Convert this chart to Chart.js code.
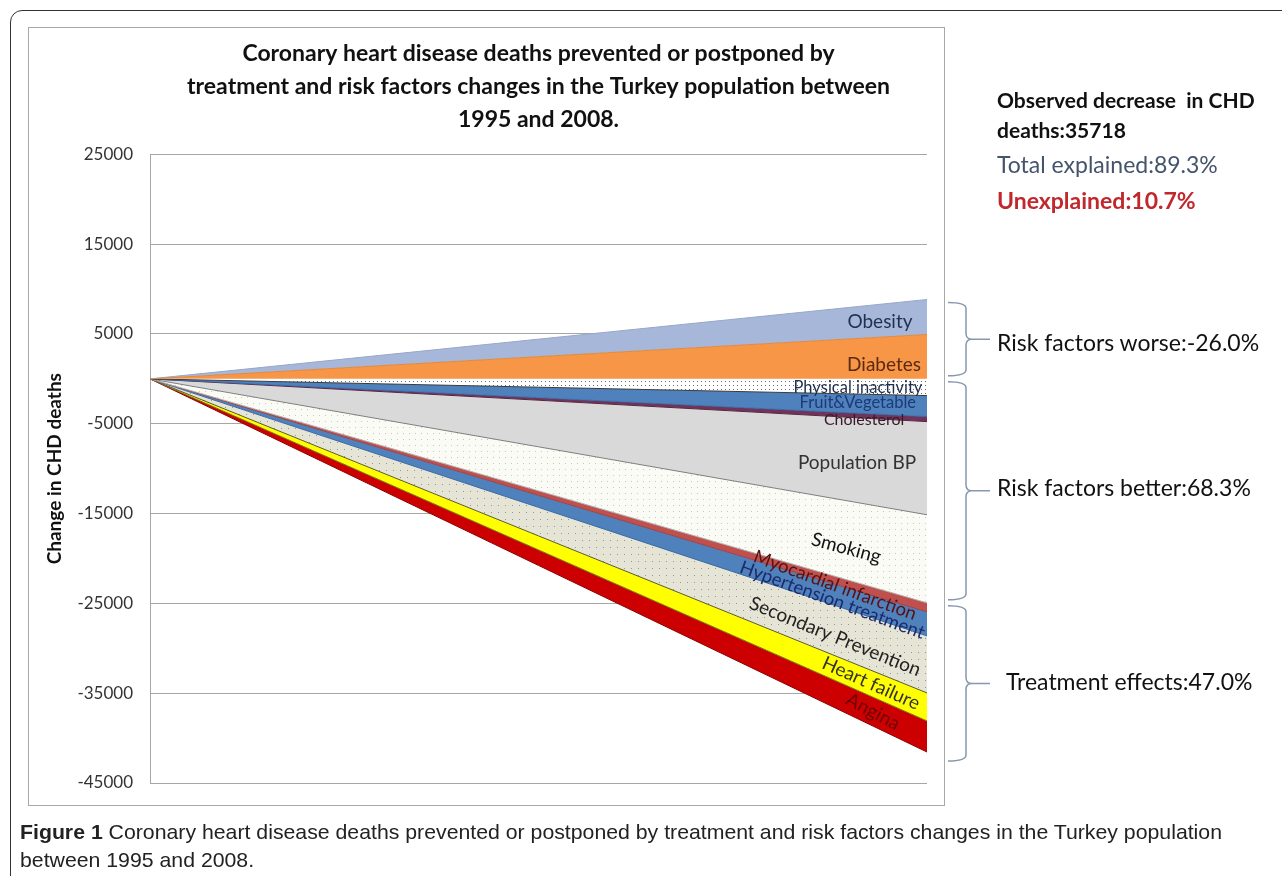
<!DOCTYPE html>
<html><head><meta charset="utf-8">
<script src="https://cdn.jsdelivr.net/npm/chart.js@4.4.1/dist/chart.umd.min.js"></script>
<style>
body{margin:0;width:1282px;height:876px;overflow:hidden;background:#fff;font-family:Lato,"Open Sans",sans-serif;position:relative}
#frame{position:absolute;left:10px;top:10px;width:1300px;height:900px;border:1.5px solid #333;border-radius:12px;box-sizing:border-box}
#box{position:absolute;left:28px;top:27px;width:917px;height:779px;border:1.5px solid #a8a8a8;box-sizing:border-box}
#c{position:absolute;left:0;top:0}
.t{position:absolute;white-space:nowrap;font-size:23px;line-height:1;color:#111}
#cap{position:absolute;left:20px;top:818px;font-family:"Liberation Sans",sans-serif;font-size:21px;line-height:28px;color:#222;white-space:nowrap;transform-origin:0 0}
#cap span{display:block}
</style></head>
<body>
<div id="frame"></div>
<div id="box"></div>
<canvas id="c" width="1282" height="876"></canvas>
<div class="t" style="left:997px;top:89px;font-weight:bold;font-size:21px;">Observed decrease&nbsp; in CHD</div>
<div class="t" style="left:997px;top:119px;font-weight:bold;font-size:21px;">deaths:35718</div>
<div class="t" style="left:997px;top:153px;color:#44546a;">Total explained:89.3%</div>
<div class="t" style="left:997px;top:189px;font-weight:bold;color:#c0282d;">Unexplained:10.7%</div>
<div class="t" style="left:997px;top:331px;">Risk factors worse:-26.0%</div>
<div class="t" style="left:997px;top:476px;">Risk factors better:68.3%</div>
<div class="t" style="left:1006px;top:670px;">Treatment effects:47.0%</div>
<div id="cap"><span id="cap1"><b>Figure 1</b> Coronary heart disease deaths prevented or postponed by treatment and risk factors changes in the Turkey population</span><span>between 1995 and 2008.</span></div>
<script>
// ---- data ----
const years = ['1995', '2008'];
const factorNames = ['Diabetes','Obesity','Physical inactivity','Fruit&Vegetable','Cholesterol','Population BP','Smoking','Myocardial infarction','Hypertension treatment','Secondary Prevention','Heart failure','Angina'];
const change2008 = [4940, 3900, -1860, -2340, -560, -10370, -9810, -1000, -2680, -6350, -3120, -3460];
const groupOf = [0, 0, 1, 1, 1, 1, 1, 2, 2, 2, 2, 2];
const yTicks = [25000, 15000, 5000, -5000, -15000, -25000, -35000, -45000];
const titleLines = ['Coronary heart disease deaths prevented or postponed by','treatment and risk factors changes in the Turkey population between','1995 and 2008.'];

// caption fit
(function(){
  const cap = document.getElementById('cap');
  const w = document.getElementById('cap1').getBoundingClientRect().width;
  cap.style.transform = 'scaleX(' + (1202 / w) + ')';
})();

// ---- styles ----
function dots(bg, dot, step) {
  const c = document.createElement('canvas'); c.width = step; c.height = step;
  const x = c.getContext('2d'); x.fillStyle = bg; x.fillRect(0,0,step,step);
  x.fillStyle = dot; x.fillRect(1,1,1,1);
  return x.createPattern(c, 'repeat');
}
const ctx = document.getElementById('c').getContext('2d');
const fills = ['#f79646','#a7b7d9',dots('#ffffff','#6a6a6a',4),'#4f81bd','#70345a','#d9d9d9',dots('#fbfbf6','#c8c8c0',6),'#c0504d','#4f81bd',dots('#e6e4d4','#8797ad',7),'#ffff00','#cc0000'];
const borders = ['#e08a40','#98a8c8','#3c3c3c','#3a6aa5','#5a2545','#7f7f7f','#b0b0b0','#a04040','#3a6aa5','#5a5a30','#7a7a10','#8a0000'];
const labelStyle = [
  {c:'#5a2a12', s:19,   rot:0,  fx:0.9447, dy:6.5, al:'center'},
  {c:'#1f3050', s:19,   rot:0,  fx:0.9395, dy:1,   al:'center'},
  {c:'#1f2f4f', s:16.5, rot:0,  fx:0.994,  dy:0,   al:'right'},
  {c:'#1c3a78', s:16.5, rot:0,  fx:0.911,  dy:-1,  al:'center'},
  {c:'#3a1a2a', s:16,   rot:0,  fx:0.919,  dy:4,   al:'center'},
  {c:'#333333', s:19,   rot:0,  fx:0.91,   dy:2.5, al:'center'},
  {c:'#111111', s:19,   rot:15, fx:0.896,  dy:8,   al:'center'},
  {c:'#5a1010', s:18.5, rot:20, fx:0.8816, dy:5,   al:'center'},
  {c:'#1a2a6a', s:18.5, rot:20, fx:0.878,  dy:6,   al:'center'},
  {c:'#222222', s:19,   rot:22, fx:0.8816, dy:6,   al:'center'},
  {c:'#333333', s:19,   rot:24, fx:0.928,  dy:0,   al:'center'},
  {c:'#700000', s:19,   rot:28, fx:0.9305, dy:0,   al:'center'}
];

// cumulative boundaries (same-sign stacking)
const tops = [], bots = [];
let pos = 0, neg = 0;
change2008.forEach(v => {
  if (v >= 0) { bots.push(pos); pos += v; tops.push(pos); }
  else { tops.push(neg); neg += v; bots.push(neg); }
});

const datasets = factorNames.map((n, i) => ({
  label: n,
  data: [0, change2008[i]],
  backgroundColor: fills[i],
  borderColor: borders[i],
  borderWidth: 1,
  pointRadius: 0,
  tension: 0,
  fill: (i === 0 || Math.sign(change2008[i]) !== Math.sign(change2008[i-1])) ? 'origin' : '-1'
}));

const bandLabels = {
  id: 'bandLabels',
  afterDatasetsDraw(chart) {
    const {ctx, chartArea: a, scales: {y}} = chart;
    const y0 = y.getPixelForValue(0);
    factorNames.forEach((n, i) => {
      const st = labelStyle[i];
      const t = st.fx;
      const x = a.left + t * (a.right - a.left);
      const yt = y0 + t * (y.getPixelForValue(tops[i]) - y0);
      const yb = y0 + t * (y.getPixelForValue(bots[i]) - y0);
      const ym = (yt + yb) / 2 + st.dy;
      ctx.save();
      ctx.translate(x, ym);
      ctx.rotate(st.rot * Math.PI / 180);
      ctx.font = st.s + 'px Lato, "Open Sans", sans-serif';
      ctx.fillStyle = st.c;
      ctx.textAlign = st.al;
      ctx.textBaseline = 'middle';
      ctx.fillText(n, 0, 0);
      ctx.restore();
    });
  }
};

const brackets = {
  id: 'brackets',
  afterDraw(chart) {
    const {ctx, scales: {y}} = chart;
    const groups = [0, 1, 2].map(g => {
      const idx = groupOf.map((v, i) => v === g ? i : -1).filter(i => i >= 0);
      const vals = idx.flatMap(i => [tops[i], bots[i]]);
      return [y.getPixelForValue(Math.max(...vals)), y.getPixelForValue(Math.min(...vals))];
    });
    ctx.save();
    ctx.strokeStyle = '#8797b0';
    ctx.lineWidth = 1.5;
    const xl = 948, xv = 966, xt = 990, r = 6;
    groups.forEach(([y1, y2], g) => {
      y1 += 3; y2 -= 3;
      if (g === 2) y2 += 12;
      const ym = (y1 + y2) / 2;
      ctx.beginPath();
      ctx.moveTo(xl, y1);
      ctx.quadraticCurveTo(xv, y1, xv, y1 + r);
      ctx.lineTo(xv, ym - r);
      ctx.quadraticCurveTo(xv, ym, xv + 6, ym);
      ctx.quadraticCurveTo(xv, ym, xv, ym + r);
      ctx.lineTo(xv, y2 - r);
      ctx.quadraticCurveTo(xv, y2, xl, y2);
      ctx.moveTo(xv + 5, ym);
      ctx.lineTo(xt, ym);
      ctx.stroke();
    });
    ctx.restore();
  }
};

new Chart(ctx, {
  type: 'line',
  data: { labels: years, datasets },
  options: {
    responsive: false,
    animation: false,
    layout: { padding: { left: 40, right: 355, top: 20, bottom: 93 } },
    plugins: {
      legend: { display: false },
      tooltip: { enabled: false },
      title: {
        display: true, text: titleLines, fullSize: false,
        color: '#111', font: { family: 'Lato', size: 23, weight: 'bold', lineHeight: 1.44 },
        padding: { top: 17, bottom: 18 }
      }
    },
    scales: {
      x: { display: false, offset: false },
      y: {
        stacked: true,
        min: -45000, max: 25000,
        afterBuildTicks: s => { s.ticks = yTicks.map(v => ({ value: v })); },
        afterFit: s => { s.width = 110; },
        grid: { color: '#a6a6a6', drawTicks: false, lineWidth: 1 },
        border: { color: '#a6a6a6' },
        ticks: { color: '#333', font: { family: 'Lato', size: 17 }, padding: 17, callback: v => String(v) },
        title: { display: true, text: 'Change in CHD deaths', color: '#111', font: { family: 'Lato', size: 19, weight: 'bold' }, padding: { top: 3, bottom: 0 } }
      }
    }
  },
  plugins: [bandLabels, brackets]
});
</script>
</body></html>
